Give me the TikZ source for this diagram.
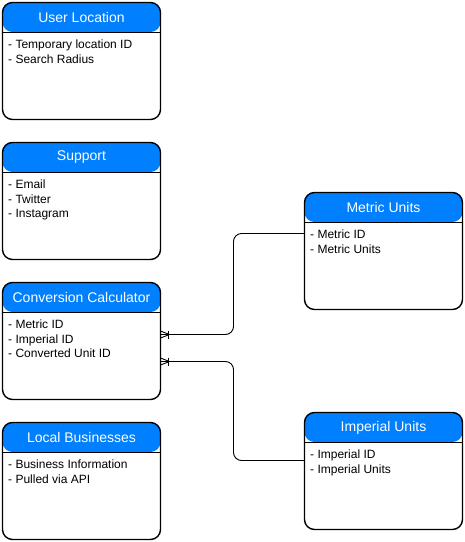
\documentclass[tikz,border=0pt]{standalone}
\usepackage{fontspec}
\setmainfont{Liberation Sans}
\definecolor{hdrblue}{RGB}{0,127,255}
\tikzset{
  entity/.style={draw=black, line width=1.4pt, rounded corners=10pt, fill=white,
    minimum width=158pt, minimum height=117pt, inner sep=0pt, outer sep=0pt,
    path picture={
      \fill[hdrblue] (path picture bounding box.north west) rectangle ([yshift=-29.5pt]path picture bounding box.north east);
      \draw[line width=1pt] ([yshift=-29.5pt]path picture bounding box.north west) -- ([yshift=-29.5pt]path picture bounding box.north east);
    }},
  hdrtext/.style={text=white, font=\fontsize{14}{16.8}\selectfont, inner sep=0pt},
  bodytext/.style={anchor=north west, align=left, font=\fontsize{12}{14.4}\selectfont, inner sep=0pt},
  conn/.style={draw=black, line width=0.9pt, rounded corners=8pt},
  foot/.style={draw=black, line width=0.9pt}
}
\newcommand\erentity[5]{%
  \node[entity] (#1) at (#2,#3) {};
  \node[hdrtext] (#1-title) at ([yshift=-15pt]#1.north) {#4};
  \node[bodytext] (#1-body) at ([xshift=5.5pt,yshift=-37.5pt]#1.north west) {#5};
}
\newcommand\crowfoot[1]{%
  \draw[foot] ([yshift=3.5pt]#1) -- ([xshift=9pt]#1) -- ([yshift=-3.5pt]#1);
  \draw[foot] ([xshift=8pt,yshift=4pt]#1) -- ([xshift=8pt,yshift=-4pt]#1);
}
\begin{document}
\begin{tikzpicture}[x=1pt,y=-1pt]
\useasboundingbox (0,0) rectangle (465,542);
\erentity{user}{81.5}{61}{User Location}{- Temporary location ID\\- Search Radius}
\erentity{support}{81.5}{201}{Support}{- Email\\- Twitter\\- Instagram}
\erentity{conv}{81.5}{341}{Conversion Calculator}{- Metric ID\\- Imperial ID\\- Converted Unit ID}
\erentity{local}{81.5}{481}{Local Businesses}{- Business Information\\- Pulled via API}
\erentity{metric}{383.5}{251}{Metric Units}{- Metric ID\\- Metric Units}
\erentity{imperial}{383.5}{471}{Imperial Units}{- Imperial ID\\- Imperial Units}
\coordinate (m1) at ([yshift=-41pt]metric.north west);
\coordinate (c1) at ([yshift=-52pt]conv.north east);
\coordinate (c2) at ([yshift=-79pt]conv.north east);
\coordinate (i1) at ([yshift=-48pt]imperial.north west);
\coordinate (mid) at (233.5,300);
\draw[conn] (m1) -| (mid) |- (c1);
\draw[conn] (c2) -| (mid |- i1) -- (i1);
\crowfoot{c1}
\crowfoot{c2}
\end{tikzpicture}
\end{document}
